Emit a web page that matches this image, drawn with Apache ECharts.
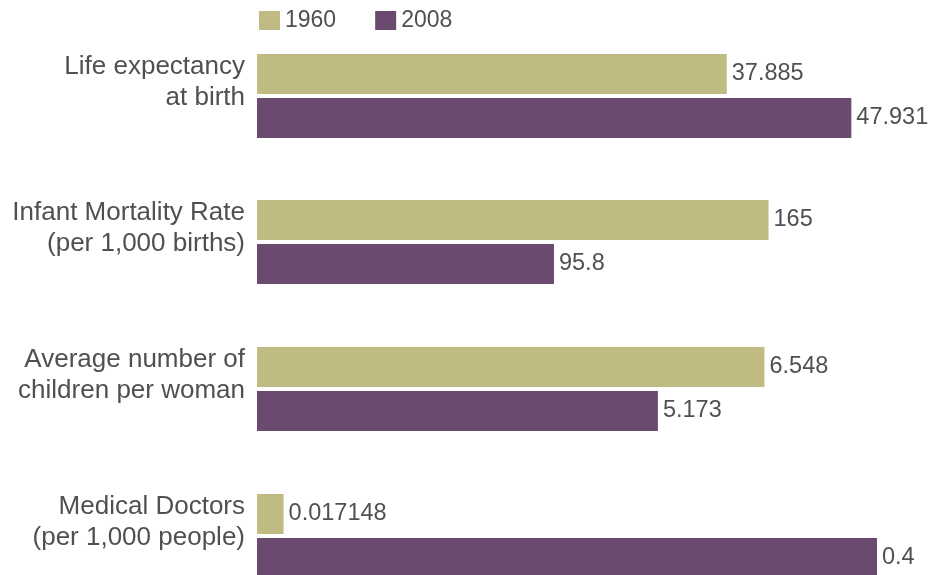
<!DOCTYPE html>
<html>
<head>
<meta charset="utf-8">
<script src="https://cdn.jsdelivr.net/npm/echarts@6/dist/echarts.min.js"></script>
<style>
html,body{margin:0;padding:0;background:#fff;overflow:hidden;}
#chart{width:929px;height:582px;}
</style>
</head>
<body>
<div id="chart"></div>
<script>
const categories = [
  'Life expectancy\nat birth',
  'Infant Mortality Rate\n(per 1,000 births)',
  'Average number of\nchildren per woman',
  'Medical Doctors\n(per 1,000 people)'
];
const seriesNames = ['1960', '2008'];
const values1960 = [37.885, 165, 6.548, 0.017148];
const values2008 = [47.931, 95.8, 5.173, 0.4];
const axisMax = [50, 200, 8, 0.4];

const colors = ['#BFBB82', '#6A4B6F'];
const textColor = '#505050';
const fontFamily = "'Liberation Sans', Arial, Helvetica, sans-serif";
const gridTops = [54, 200, 347, 494];

const grid = [], xAxis = [], yAxis = [], series = [];
categories.forEach((cat, i) => {
  grid.push({left: 257, width: 620, top: gridTops[i], height: 84});
  xAxis.push({type: 'value', gridIndex: i, min: 0, max: axisMax[i], show: false});
  yAxis.push({
    type: 'category', gridIndex: i, data: [cat], inverse: true,
    axisLine: {show: false}, axisTick: {show: false}, splitLine: {show: false},
    axisLabel: {
      color: textColor, fontSize: 26, fontFamily: fontFamily, lineHeight: 31,
      align: 'right', margin: 12,
      formatter: (v) => v.split('\n').map(l => '{t|' + l + '}').join('\n') + '\n{s| }',
      rich: {
        t: {color: textColor, fontSize: 26, fontFamily: fontFamily, lineHeight: 31, align: 'right'},
        s: {fontSize: 10, lineHeight: 28}
      }
    }
  });
  [values1960, values2008].forEach((vals, s) => {
    series.push({
      type: 'bar', name: seriesNames[s], xAxisIndex: i, yAxisIndex: i,
      data: [vals[i]], barWidth: 40, barGap: '10%',
      itemStyle: {color: colors[s]},
      label: {show: true, position: 'right', distance: 5, color: textColor,
              fontSize: 23.5, fontFamily: fontFamily},
      animation: false
    });
  });
});

const chart = echarts.init(document.getElementById('chart'), null, {renderer: 'canvas'});
chart.setOption({
  animation: false,
  legend: {
    data: seriesNames, left: 254, top: 4, itemWidth: 21, itemHeight: 19,
    itemGap: 39, icon: 'rect',
    textStyle: {color: textColor, fontSize: 23, fontFamily: fontFamily}
  },
  grid: grid, xAxis: xAxis, yAxis: yAxis, series: series
});
</script>
</body>
</html>
